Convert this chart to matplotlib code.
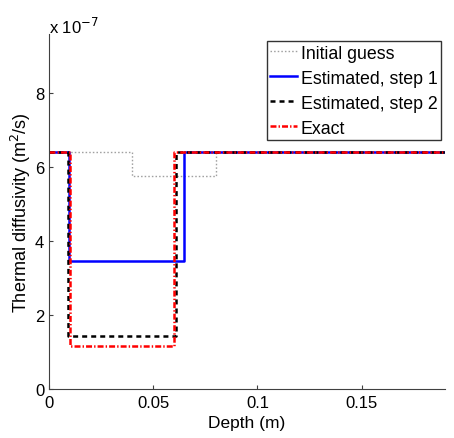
import matplotlib
matplotlib.use("Agg")
import matplotlib.pyplot as plt
import numpy as np

plt.rcParams['font.family'] = ['Liberation Sans', 'DejaVu Sans']
plt.rcParams['lines.scale_dashes'] = False

x_end = 0.19
base = 6.4
# series: (drop depth, rise depth, low value) in units of 1e-7 m^2/s
labels = ["Initial guess", "Estimated, step 1", "Estimated, step 2", "Exact"]
drop_x = [0.04, 0.0095, 0.009, 0.010]
rise_x = [0.08, 0.065, 0.061, 0.060]
low_val = [5.75, 3.45, 1.42, 1.15]
colors = ["#a0a0a0", "#0000ff", "#000000", "#ff0000"]
dash_patterns = [(1.1, 1.5), None, (3.6, 2.9), (4.3, 1.5, 1.0, 1.5)]
widths = [1.0, 1.8, 1.8, 1.8]

fig = plt.figure(figsize=(4.54, 4.39), dpi=100)
ax = fig.add_axes([0.108, 0.1116, 0.872, 0.8087])

for lab, d, r, v, c, dp, lw in zip(labels, drop_x, rise_x, low_val, colors, dash_patterns, widths):
    xs = [0, d, r, x_end]
    ys = np.array([base, v, base, base]) * 1e-7
    line, = ax.plot(xs, ys, drawstyle='steps-post', color=c, linewidth=lw, label=lab)
    if dp is not None:
        line.set_dashes(dp)

ax.set_xlim(0, x_end)
ax.set_ylim(0, 9.6e-7)
ax.set_xticks([0, 0.05, 0.1, 0.15])
ax.set_xticklabels(["0", "0.05", "0.1", "0.15"])
ax.set_yticks(np.array([0, 2, 4, 6, 8]) * 1e-7)
ax.set_yticklabels(["0", "2", "4", "6", "8"])
ax.tick_params(direction='in', length=3, labelsize=12, colors='#404040', labelcolor='black')
ax.tick_params(axis='x', pad=4)
for s in ['top', 'right']:
    ax.spines[s].set_visible(False)
for s in ['left', 'bottom']:
    ax.spines[s].set_color('#404040')
ax.set_xlabel("Depth (m)", fontsize=12.5, labelpad=4)
ax.set_ylabel("Thermal diffusivity (m$^2$/s)", fontsize=13, labelpad=1)
ax.text(0.0, 1.003, r"x 10$^{-7}$", transform=ax.transAxes, fontsize=12, ha='left', va='baseline')

leg = ax.legend(loc='upper right', bbox_to_anchor=(0.99, 0.98), fontsize=12.8, frameon=True,
                fancybox=False, edgecolor='black', handlelength=1.5, handletextpad=0.22,
                borderpad=0.2, labelspacing=0.45, borderaxespad=0)
leg.get_frame().set_linewidth(1.0)

fig.savefig("out.png", dpi=100)
